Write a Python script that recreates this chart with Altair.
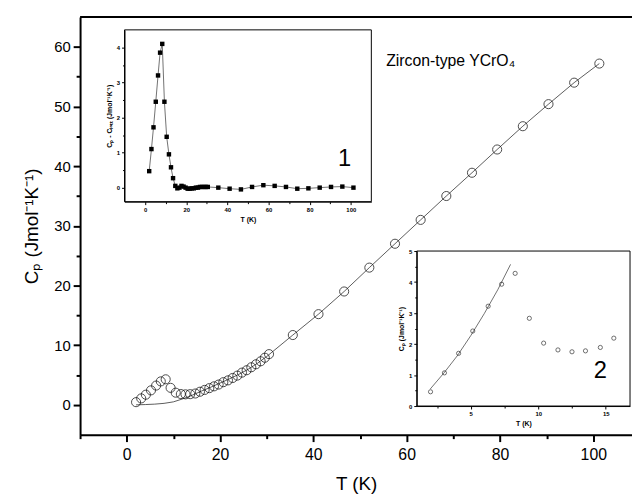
import altair as alt
import pandas as pd

FONT = "Liberation Sans"
W, H = 559, 423

# ---------------- data ----------------
main_T_low = [2.0, 3.1, 4.1, 5.2, 6.3, 7.3, 8.35, 9.4, 10.5, 11.6, 12.6, 13.6, 14.7, 15.7,
              16.7, 17.7, 18.7, 19.7, 20.7, 21.7, 22.7, 23.7, 24.7, 25.7, 26.7, 27.7, 28.7, 29.6, 30.5]
main_Cp_low = [0.45, 1.08, 1.70, 2.43, 3.23, 3.93, 4.28, 2.85, 2.04, 1.81, 1.76, 1.79, 1.90, 2.20,
               2.5, 2.8, 3.1, 3.4, 3.8, 4.1, 4.5, 4.9, 5.4, 5.8, 6.3, 6.8, 7.3, 7.9, 8.5]
main_T_high = [35.6, 41.1, 46.6, 52.0, 57.5, 63.0, 68.5, 74.0, 79.4, 84.9, 90.4, 95.9, 101.3]
main_Cp_high = [11.7, 15.2, 19.0, 23.0, 27.0, 31.0, 35.0, 38.9, 42.8, 46.7, 50.4, 54.0, 57.2]

fit_T = [2, 4, 6, 8, 10, 12, 14, 16, 18, 20, 22, 24, 26, 28, 30] + main_T_high
fit_Cp = [0.0, 0.05, 0.12, 0.25, 0.5, 1.0, 1.6, 2.3, 2.95, 3.65, 4.35, 5.1, 5.95, 6.95, 8.1] + main_Cp_high

ins1_T = main_T_low + main_T_high
ins1_dC = [0.47, 1.1, 1.72, 2.45, 3.2, 3.85, 4.1, 2.45, 1.45, 0.95, 0.58, 0.27, 0.05, -0.02,
           0.0, 0.05, 0.03, 0.0, -0.03, -0.03, -0.02, -0.02, 0.0, 0.0, 0.02, 0.02, 0.02, 0.02, 0.02,
           0.0, -0.03, -0.05, 0.02, 0.07, 0.05, 0.02, -0.03, -0.02, 0.0, 0.02, 0.03, 0.0]

ins2_T = [2.02, 3.05, 4.1, 5.15, 6.29, 7.29, 8.29, 9.34, 10.4, 11.46, 12.5, 13.5, 14.6, 15.6]
ins2_Cp = [0.46, 1.07, 1.70, 2.42, 3.22, 3.93, 4.28, 2.83, 2.03, 1.81, 1.75, 1.78, 1.89, 2.19]
fit2_T = [2.0, 3.0, 4.0, 5.0, 6.0, 7.0, 7.95]
fit2_Cp = [0.55, 1.06, 1.62, 2.27, 2.98, 3.75, 4.57]

main_pts = pd.DataFrame({"T": main_T_low + main_T_high, "Cp": main_Cp_low + main_Cp_high})
main_fit = pd.DataFrame({"T": fit_T, "Cp": fit_Cp})
ins1_df = pd.DataFrame({"T": ins1_T, "dC": ins1_dC})
ins2_df = pd.DataFrame({"T": ins2_T, "Cp": ins2_Cp})
fit2_df = pd.DataFrame({"T": fit2_T, "Cp": fit2_Cp})
one = pd.DataFrame({"k": [0]})

# ---------------- main panel ----------------
mx_scale = alt.Scale(domain=[-10, 108.3], nice=False, zero=False)
my_scale = alt.Scale(domain=[-5, 65], nice=False, zero=False)
mx_axis = alt.Axis(
    orient="bottom", values=list(range(-10, 110, 10)), grid=False,
    labelExpr="datum.value % 20 === 0 ? format(datum.value, 'd') : ''",
    tickSize={"condition": {"test": "datum.value % 20 === 0", "value": 7}, "value": 4},
    domainWidth=2, tickWidth=2, domainColor="black", tickColor="black",
    labelFont=FONT, labelFontSize=16, labelColor="black", labelPadding=5,
    title="T (K)", titleFont=FONT, titleFontSize=19, titleFontWeight="normal",
    titleColor="black", titlePadding=13, labelFlush=False)
my_axis = alt.Axis(
    orient="left", values=list(range(0, 65, 5)), grid=False,
    labelExpr="datum.value % 10 === 0 ? format(datum.value, 'd') : ''",
    tickSize={"condition": {"test": "datum.value % 10 === 0", "value": 7}, "value": 4},
    domainWidth=2, tickWidth=2, domainColor="black", tickColor="black",
    labelFont=FONT, labelFontSize=15, labelColor="black", labelPadding=3,
    title="Cₚ (Jmol⁻¹K⁻¹)", titleFont=FONT, titleFontSize=19, titleFontWeight="normal",
    titleColor="black", titlePadding=12, labelFlush=False)

MX = alt.X("T:Q", scale=mx_scale, axis=mx_axis)
MY = alt.Y("Cp:Q", scale=my_scale, axis=my_axis)

main_line = alt.Chart(main_fit).mark_line(color="#333333", strokeWidth=0.8).encode(x=MX, y=MY)
main_points = alt.Chart(main_pts).mark_point(shape="circle", filled=False, size=85,
                                             color="black", strokeWidth=1).encode(x=MX, y=MY)
top_rule = alt.Chart(one).mark_rule(color="black", strokeWidth=2).encode(
    x=alt.X(datum=-10, type="quantitative", scale=mx_scale, axis=mx_axis),
    x2=alt.X2(datum=108.3),
    y=alt.Y(datum=65, type="quantitative", scale=my_scale, axis=my_axis))
title_txt = alt.Chart(one).mark_text(align="left", baseline="middle", font=FONT,
                                     fontSize=16, color="black").encode(
    x=alt.value(310), y=alt.value(45), text=alt.value("Zircon-type YCrO₄"))

main = alt.layer(main_line, main_points, top_rule, title_txt)

# ---------------- inset 1 ----------------
i1x_scale = alt.Scale(domain=[-10, 110], range=[45, 295], nice=False, zero=False)
i1y_scale = alt.Scale(domain=[-0.4, 4.5], range=[187, 13], nice=False, zero=False)
small = dict(labelFont=FONT, labelFontSize=6, labelFontWeight="bold", labelColor="black",
             titleFont=FONT, titleFontSize=7, titleFontWeight="bold", titleColor="black",
             domainColor="black", tickColor="black", domainWidth=1, tickWidth=1, grid=False,
             labelFlush=False)
i1x_axis = alt.Axis(orient="bottom", offset=-236, values=list(range(0, 110, 10)),
                    labelExpr="datum.value % 20 === 0 ? format(datum.value, 'd') : ''",
                    tickSize={"condition": {"test": "datum.value % 20 === 0", "value": 3}, "value": 2},
                    labelPadding=2, title="T (K)", titlePadding=3, **small)
i1y_axis = alt.Axis(orient="left", offset=-45, values=[0, 0.5, 1, 1.5, 2, 2.5, 3, 3.5, 4],
                    labelExpr="datum.value % 1 === 0 ? format(datum.value, 'd') : ''",
                    tickSize={"condition": {"test": "datum.value % 1 === 0", "value": 3}, "value": 2},
                    labelPadding=2, title="Cₚ - Cₗₐₜₜ (Jmol⁻¹K⁻¹)", titlePadding=4, **small)
I1X = alt.X("T:Q", scale=i1x_scale, axis=i1x_axis)
I1Y = alt.Y("dC:Q", scale=i1y_scale, axis=i1y_axis)

frame1 = alt.Chart(one).mark_rect(fill=None, stroke="black", strokeWidth=1).encode(
    x=alt.X(datum=-10, type="quantitative", scale=i1x_scale, axis=i1x_axis), x2=alt.X2(datum=110),
    y=alt.Y(datum=-0.4, type="quantitative", scale=i1y_scale, axis=i1y_axis), y2=alt.Y2(datum=4.5))
line1 = alt.Chart(ins1_df).mark_line(color="#333333", strokeWidth=0.7).encode(x=I1X, y=I1Y)
pts1 = alt.Chart(ins1_df).mark_point(shape="square", filled=True, size=20, color="black",
                                     opacity=1).encode(x=I1X, y=I1Y)
lab1 = alt.Chart(one).mark_text(font=FONT, fontSize=24, color="black").encode(
    x=alt.value(268), y=alt.value(144), text=alt.value("1"))
inset1 = alt.layer(frame1, line1, pts1, lab1)

# ---------------- inset 2 ----------------
i2x_scale = alt.Scale(domain=[1, 16.8], range=[341, 557], nice=False, zero=False)
i2y_scale = alt.Scale(domain=[0, 5], range=[394, 237], nice=False, zero=False)
i2x_axis = alt.Axis(orient="bottom", offset=-29, values=[2.5, 5, 7.5, 10, 12.5, 15],
                    labelExpr="datum.value % 5 === 0 ? format(datum.value, 'd') : ''",
                    tickSize={"condition": {"test": "datum.value % 5 === 0", "value": 3}, "value": 2},
                    labelPadding=2, title="T (K)", titlePadding=3, **small)
i2y_axis = alt.Axis(orient="left", offset=-341, values=[0, 0.5, 1, 1.5, 2, 2.5, 3, 3.5, 4, 4.5, 5],
                    labelExpr="datum.value % 1 === 0 ? format(datum.value, 'd') : ''",
                    tickSize={"condition": {"test": "datum.value % 1 === 0", "value": 3}, "value": 2},
                    labelPadding=2, title="Cₚ (Jmol⁻¹K⁻¹)", titlePadding=4, **small)
I2X = alt.X("T:Q", scale=i2x_scale, axis=i2x_axis)
I2Y = alt.Y("Cp:Q", scale=i2y_scale, axis=i2y_axis)

frame2 = alt.Chart(one).mark_rect(fill=None, stroke="black", strokeWidth=1).encode(
    x=alt.X(datum=1, type="quantitative", scale=i2x_scale, axis=i2x_axis), x2=alt.X2(datum=16.8),
    y=alt.Y(datum=0, type="quantitative", scale=i2y_scale, axis=i2y_axis), y2=alt.Y2(datum=5))
line2 = alt.Chart(fit2_df).mark_line(color="#333333", strokeWidth=0.7).encode(x=I2X, y=I2Y)
pts2 = alt.Chart(ins2_df).mark_point(shape="circle", filled=False, size=18, color="black",
                                     strokeWidth=0.8).encode(x=I2X, y=I2Y)
lab2 = alt.Chart(one).mark_text(font=FONT, fontSize=24, color="black").encode(
    x=alt.value(527), y=alt.value(359), text=alt.value("2"))
inset2 = alt.layer(frame2, line2, pts2, lab2)

chart = alt.layer(main, inset1, inset2).resolve_scale(
    x="independent", y="independent").properties(
    width=W, height=H,
    autosize=alt.AutoSizeParams(type="none"),
    padding={"left": 73, "top": 6, "right": 0, "bottom": 62},
).configure_view(stroke=None).configure(background="white")

chart.save("out.html", embed_options={"renderer": "svg", "actions": False})
